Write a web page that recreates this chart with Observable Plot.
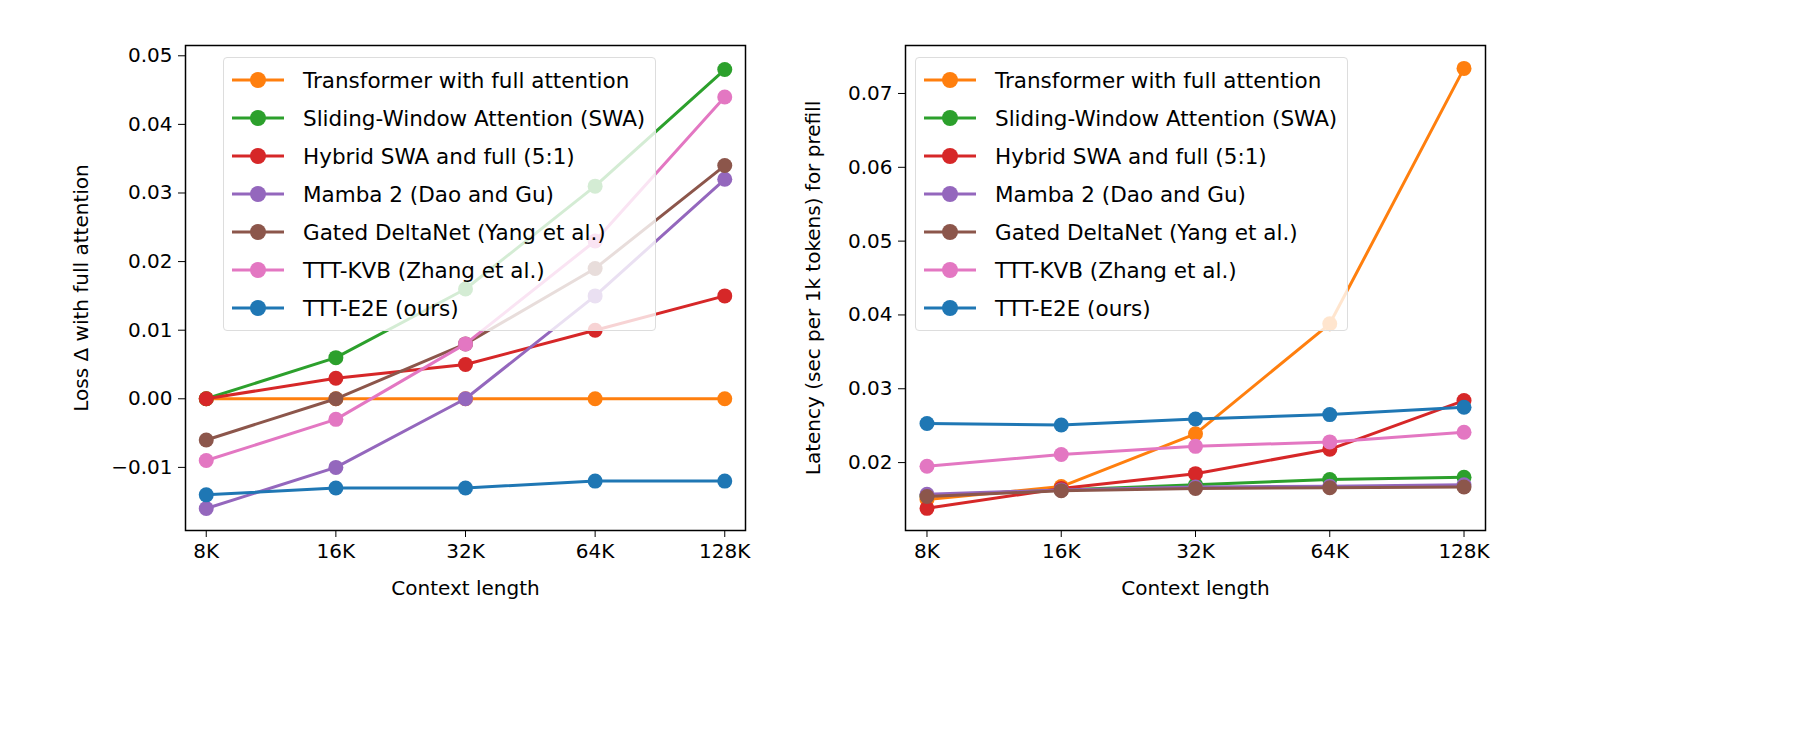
<!DOCTYPE html>
<html><head><meta charset="utf-8">
<script src="https://cdn.jsdelivr.net/npm/d3@7"></script>
<script src="https://cdn.jsdelivr.net/npm/@observablehq/plot@0.6"></script>
<style>
body{margin:0;background:#fff;font-family:"DejaVu Sans",sans-serif;}
#wrap{position:relative;width:1800px;height:729px;}
.p{position:absolute;top:0;}
.leg{position:absolute;background:rgba(255,255,255,0.8);border:1.5px solid #ddd;border-radius:4px;padding:3px 10px 3px 8px;font-size:21.5px;color:#000;}
.leg div{display:flex;align-items:center;height:38px;white-space:nowrap;}
.leg svg{margin-right:19px;}
</style></head><body><div id="wrap"></div>
<script>
const contexts = ["8K","16K","32K","64K","128K"];
const seriesNames = ["Transformer with full attention","Sliding-Window Attention (SWA)","Hybrid SWA and full (5:1)","Mamba 2 (Dao and Gu)","Gated DeltaNet (Yang et al.)","TTT-KVB (Zhang et al.)","TTT-E2E (ours)"];
const colors = ["#ff7f0e","#2ca02c","#d62728","#9467bd","#8c564b","#e377c2","#1f77b4"];
const lossTransformer = [0,0,0,0,0];
const lossSWA = [0,0.006,0.016,0.031,0.048];
const lossHybrid = [0,0.003,0.005,0.010,0.015];
const lossMamba = [-0.016,-0.010,0,0.015,0.032];
const lossGated = [-0.006,0,0.008,0.019,0.034];
const lossKVB = [-0.009,-0.003,0.008,0.023,0.044];
const lossE2E = [-0.014,-0.013,-0.013,-0.012,-0.012];
const latTransformer = [0.0150,0.01675,0.0239,0.0388,0.0734];
const latSWA = [0.0155,0.0163,0.0170,0.0177,0.0180];
const latHybrid = [0.0138,0.0165,0.0185,0.0218,0.0284];
const latMamba = [0.0157,0.0163,0.0167,0.0168,0.0170];
const latGated = [0.0154,0.0162,0.0165,0.0166,0.0167];
const latKVB = [0.0195,0.0211,0.0222,0.0228,0.0241];
const latE2E = [0.0253,0.0251,0.0259,0.0265,0.0275];
const lossTicks = [-0.01,0,0.01,0.02,0.03,0.04,0.05];
const latTicks = [0.02,0.03,0.04,0.05,0.06,0.07];

function rows(arrs){
  const out=[];
  arrs.forEach((a,s)=>a.forEach((v,i)=>out.push({s,i,v})));
  return out;
}
function makePlot(data, yDomain, ticks, ylabel, tf, left){
  const W=left?770:760;
  const marks=[];
  for(let s=0;s<7;s++){
    const d=data.filter(r=>r.s===s);
    marks.push(Plot.line(d,{x:"i",y:"v",stroke:colors[s],strokeWidth:3}));
    marks.push(Plot.dot(d,{x:"i",y:"v",fill:colors[s],r:7.5}));
  }
  marks.push(Plot.frame({stroke:"#000",strokeWidth:1.5}));
  return Plot.plot({
    width:W,height:600,marginLeft:left?185:145,marginRight:left?25:35,marginTop:45,marginBottom:70,
    style:{fontSize:"20px",fontFamily:"DejaVu Sans",color:"#000",overflow:"visible"},
    x:{domain:[-0.16,4.16],ticks:[0,1,2,3,4],tickFormat:i=>contexts[i],label:"Context length",labelAnchor:"center",labelArrow:"none",labelOffset:64,tickSize:7,tickPadding:6},
    y:{domain:yDomain,ticks:ticks,tickFormat:tf,label:ylabel,labelAnchor:"center",labelOffset:left?112:100,labelArrow:"none",tickSize:7,tickPadding:6},
    marks
  });
}
const wrap=document.getElementById("wrap");
const p1=makePlot(rows([lossTransformer,lossSWA,lossHybrid,lossMamba,lossGated,lossKVB,lossE2E]),[-0.0192,0.0515],lossTicks,"Loss \u0394 with full attention",v=>v<0?"\u2212"+Math.abs(v).toFixed(2):v.toFixed(2),true);
const d1=document.createElement("div");d1.className="p";d1.style.left="0px";d1.appendChild(p1);wrap.appendChild(d1);
const p2=makePlot(rows([latTransformer,latSWA,latHybrid,latMamba,latGated,latKVB,latE2E]),[0.0108,0.0765],latTicks,"Latency (sec per 1k tokens) for prefill",v=>v.toFixed(2),false);
const d2=document.createElement("div");d2.className="p";d2.style.left="760px";d2.appendChild(p2);wrap.appendChild(d2);
function legend(x,y){
  const L=document.createElement("div");L.className="leg";L.style.left=x+"px";L.style.top=y+"px";
  seriesNames.forEach((n,s)=>{
    const r=document.createElement("div");
    r.innerHTML=`<svg width="52" height="20"><line x1="0" x2="52" y1="10" y2="10" stroke="${colors[s]}" stroke-width="3"/><circle cx="26" cy="10" r="8" fill="${colors[s]}"/></svg><span>${n}</span>`;
    L.appendChild(r);
  });
  wrap.appendChild(L);
}
legend(223,57);
legend(915,57);
</script></body></html>
